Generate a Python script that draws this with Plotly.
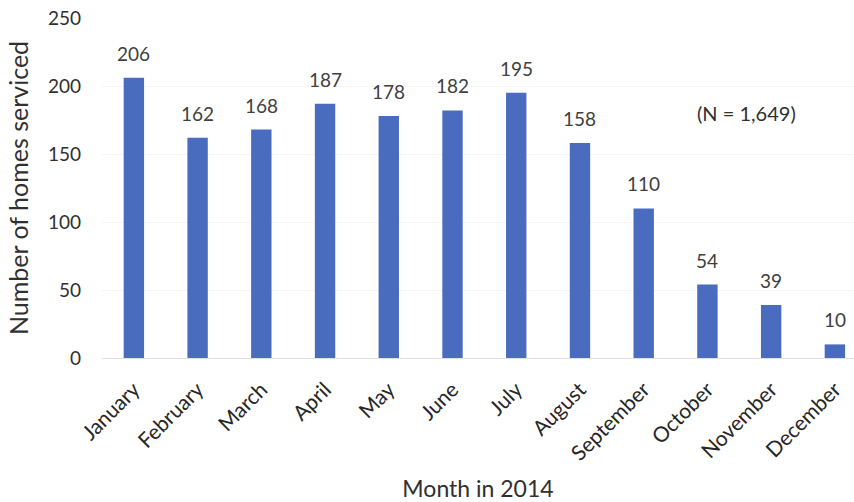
import plotly.graph_objects as go

months = ["January", "February", "March", "April", "May", "June", "July",
          "August", "September", "October", "November", "December"]
homes = [206, 162, 168, 187, 178, 182, 195, 158, 110, 54, 39, 10]
y_ticks = [0, 50, 100, 150, 200, 250]

bar_color = "#4a6cbf"
text_color = "#404040"
font_family = "Lato, 'Open Sans', sans-serif"

fig = go.Figure()
fig.add_trace(go.Bar(
    x=list(range(len(months))),
    y=homes,
    marker=dict(color=bar_color, line=dict(width=0)),
    width=0.32,
    hoverinfo="x+y",
))

# value labels above each bar
for i, v in enumerate(homes):
    fig.add_annotation(x=i, y=v, text=str(v), showarrow=False,
                       xref="x", yref="y", yanchor="bottom", yshift=11,
                       font=dict(size=19, color=text_color, family=font_family))

fig.add_annotation(x=9.62, y=180, text="(N = 1,649)", showarrow=False,
                   xref="x", yref="y",
                   font=dict(size=20, color="#303030", family=font_family))

fig.update_layout(
    width=854, height=502,
    margin=dict(l=102, r=0, t=18, b=144),
    paper_bgcolor="white", plot_bgcolor="white",
    showlegend=False,
    font=dict(family=font_family, color=text_color),
    xaxis=dict(
        range=[-0.5, 11.3],
        tickmode="array",
        tickvals=list(range(len(months))),
        ticktext=months,
        tickangle=-45,
        tickfont=dict(size=21, color="#262626"),
        ticklabelstandoff=10,
        showgrid=False,
        showline=True, linecolor="#e2e2e2", linewidth=1,
        ticks="",
        zeroline=False,
        title=dict(text="Month in 2014", font=dict(size=23, color="#303030"),
                   standoff=18),
    ),
    yaxis=dict(
        range=[0, 250],
        tickmode="array",
        tickvals=y_ticks,
        tickfont=dict(size=19, color="#303030"),
        showgrid=True, gridcolor="#f5f5f5", gridwidth=1,
        zeroline=False,
        showline=False,
        ticks="",
        ticklabelstandoff=20,
        title=dict(text="Number of homes serviced",
                   font=dict(size=25, color="#303030"), standoff=12),
    ),
)

fig.write_html("out.html")
